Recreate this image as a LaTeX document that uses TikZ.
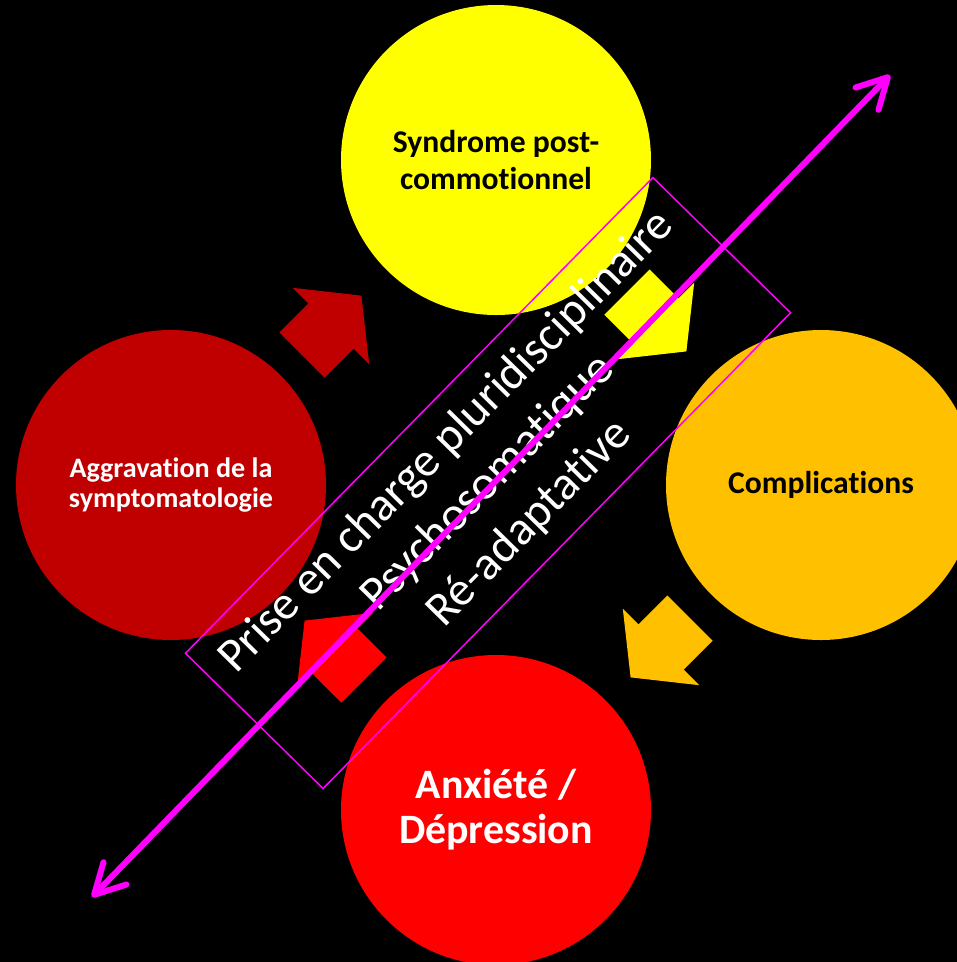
\documentclass[tikz,border=0pt]{standalone}
\usepackage{fontspec}
\setmainfont{Carlito}[RawFeature={-liga;-clig;-dlig;-calt}]
\usetikzlibrary{arrows.meta}
\definecolor{darkred}{HTML}{C00000}
\definecolor{amber}{HTML}{FFC000}
\definecolor{brightred}{HTML}{FF0000}
\definecolor{lemon}{HTML}{FFFF00}
\definecolor{fuchsia}{HTML}{FF00FF}

% block arrow: colour, back x, back y, direction
\newcommand{\blockarrow}[4]{%
  \fill[#1, shift={(#2,#3)}, rotate=#4]
    (0,-32) -- (41,-32) -- (41,-54) -- (84,0) -- (41,54) -- (41,32) -- (0,32) -- cycle;}

\begin{document}
\begin{tikzpicture}[x=0.1mm, y=-0.1mm,
  bubble/.style={circle, minimum size=31mm, inner sep=0pt, align=center},
  axis/.style={fuchsia, line width=0.6mm,
    {Straight Barb[round,length=3mm,width=3.2mm]}-{Straight Barb[round,length=3mm,width=3.2mm]}}]
\fill[black] (0,0) rectangle (957,962);
\useasboundingbox (0,0) rectangle (957,962);
\clip (0,0) rectangle (957,962);

% the four states
\node[bubble, fill=lemon, font=\bfseries\fontsize{9}{10.5}\selectfont] (spc) at (496,160)
  {Syndrome post-\\commotionnel};
\node[bubble, fill=amber, font=\bfseries\fontsize{9}{11}\selectfont] (compl) at (821,485)
  {Complications};
\node[bubble, fill=brightred, text=white, font=\bfseries\fontsize{11.9}{12.8}\selectfont] (anx) at (496,810)
  {Anxiété /\\Dépression};
\node[bubble, fill=darkred, text=white, font=\bfseries\fontsize{8}{8.6}\selectfont] (aggr) at (171,485)
  {Aggravation de la\\symptomatologie};

% cycle arrows
\blockarrow{lemon}{627}{292}{-45}
\blockarrow{amber}{690}{618}{-135}
\blockarrow{brightred}{364}{680}{135}
\blockarrow{darkred}{302}{355}{45}

% care box
\node[draw=fuchsia, line width=0.15mm, rotate=45.5, minimum width=66.7mm, minimum height=19.3mm,
  text=white, align=center, font=\fontsize{13.6}{16.5}\selectfont] (care) at (488,483)
  {Prise en charge pluridisciplinaire\\Psychosomatique\\Ré-adaptative};

\coordinate (lo) at (92,897);
\coordinate (hi) at (890,75);
\draw[axis] (lo) -- (hi);
\end{tikzpicture}
\end{document}
